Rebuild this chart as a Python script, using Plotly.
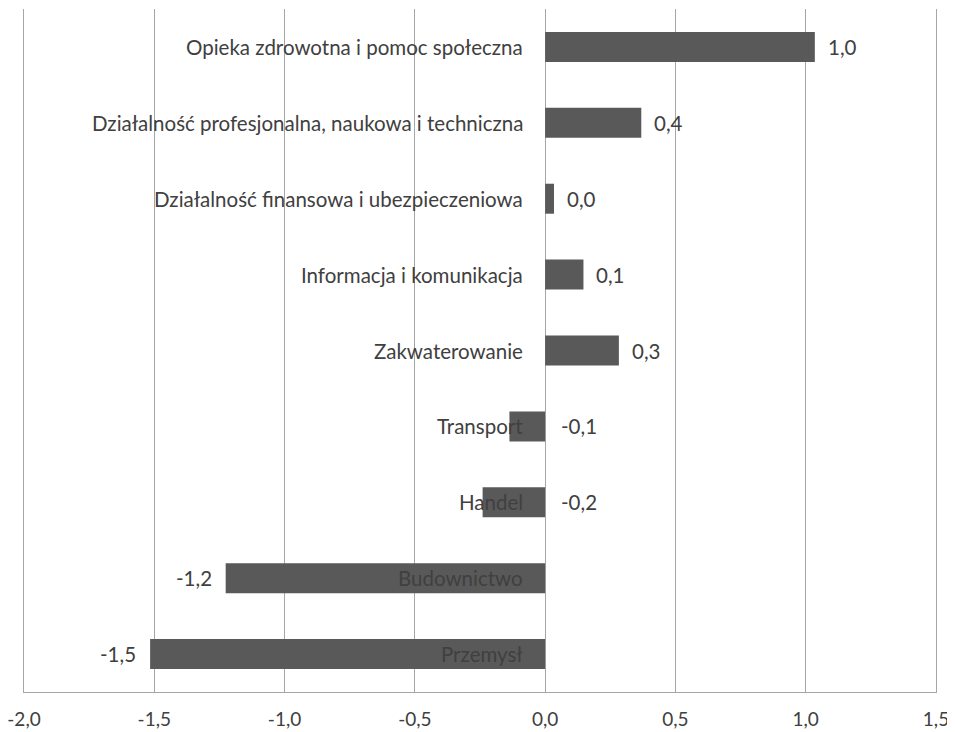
import plotly.graph_objects as go

categories = [
    "Opieka zdrowotna i pomoc społeczna",
    "Działalność profesjonalna, naukowa i techniczna",
    "Działalność finansowa i ubezpieczeniowa",
    "Informacja i komunikacja",
    "Zakwaterowanie",
    "Transport",
    "Handel",
    "Budownictwo",
    "Przemysł",
]
values = [1.035, 0.369, 0.034, 0.147, 0.283, -0.137, -0.24, -1.226, -1.516]
tick_vals = [-2.0, -1.5, -1.0, -0.5, 0.0, 0.5, 1.0, 1.5]
tick_text = ["-2,0", "-1,5", "-1,0", "-0,5", "0,0", "0,5", "1,0", "1,5"]

FONT = "Lato"
TXT = "#404040"
FS = 20.5

fig = go.Figure()
fig.add_trace(go.Bar(
    x=values, y=categories, orientation="h",
    marker=dict(color="#595959", line=dict(width=0)),
    width=0.395, hoverinfo="skip",
))

annotations = []
for c, v in zip(categories, values):
    annotations.append(dict(
        x=0, y=c, xref="x", yref="y", text=c, showarrow=False,
        xanchor="right", xshift=-20, font=dict(family=FONT, size=FS, color=TXT),
    ))
    lab = f"{v:.1f}".replace(".", ",")
    if v >= 0:
        annotations.append(dict(x=v, y=c, xref="x", yref="y", text=lab, showarrow=False,
                                xanchor="left", xshift=11, font=dict(family=FONT, size=FS, color=TXT)))
    elif v > -0.5:
        annotations.append(dict(x=0, y=c, xref="x", yref="y", text=lab, showarrow=False,
                                xanchor="left", xshift=14, font=dict(family=FONT, size=FS, color=TXT)))
    else:
        annotations.append(dict(x=v, y=c, xref="x", yref="y", text=lab, showarrow=False,
                                xanchor="right", xshift=-12, font=dict(family=FONT, size=FS, color=TXT)))

fig.update_layout(
    width=955, height=732,
    margin=dict(l=16, r=27, t=1, b=48),
    paper_bgcolor="white", plot_bgcolor="white",
    showlegend=False,
    annotations=annotations,
    xaxis=dict(
        range=[-2.0, 1.5], tickvals=tick_vals, ticktext=tick_text,
        showgrid=True, gridcolor="#a6a6a6", gridwidth=1,
        zeroline=False, showline=True, linecolor="#a6a6a6", linewidth=1,
        ticks="", ticklabelstandoff=10, automargin=False,
        ticklabeloverflow="allow",
        tickfont=dict(family=FONT, size=19, color=TXT),
    ),
    yaxis=dict(
        categoryorder="array", categoryarray=categories[::-1],
        showticklabels=False, showgrid=False, zeroline=False,
        showline=True, mirror=True, linecolor="#a6a6a6", linewidth=1, ticks="",
        range=[-0.5, 8.5], automargin=False,
    ),
)

fig.write_html("out.html")
